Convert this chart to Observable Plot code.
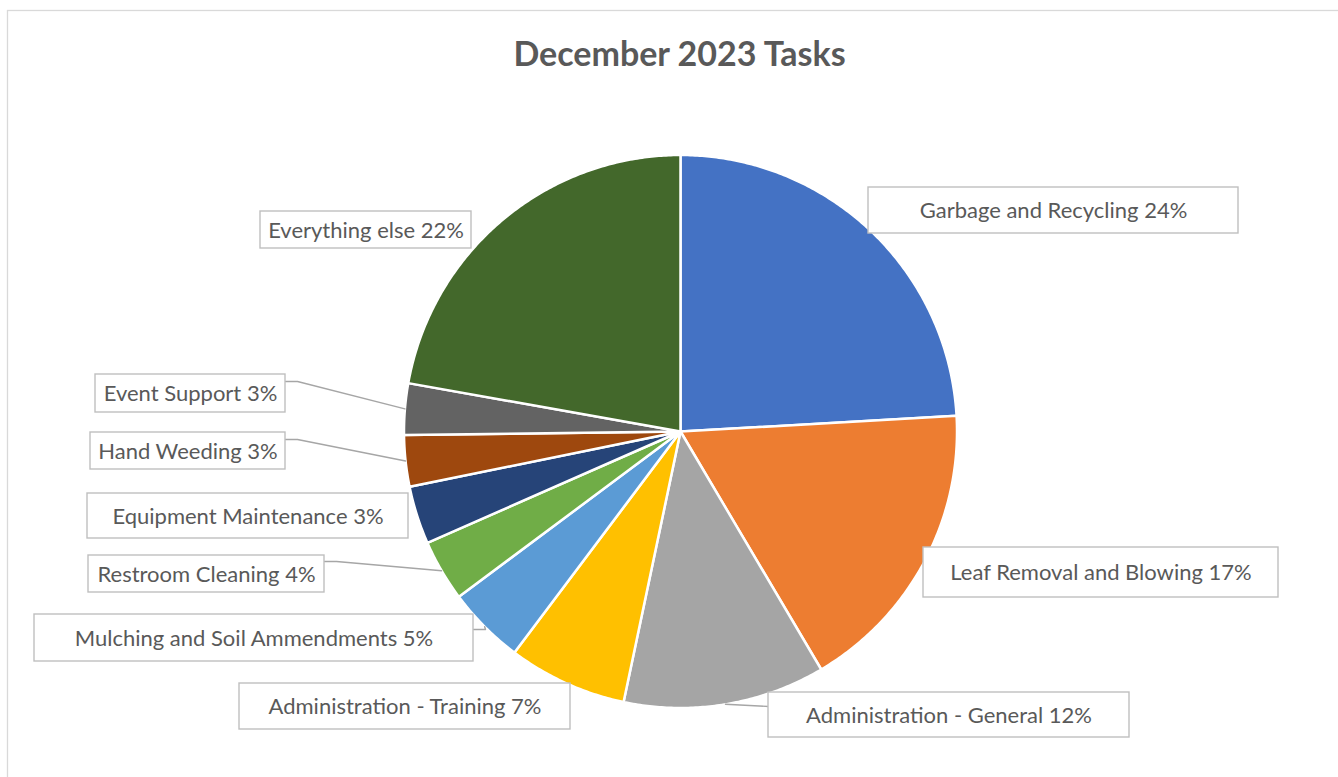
<!DOCTYPE html>
<html><head><meta charset="utf-8">
<script src="https://cdn.jsdelivr.net/npm/d3@7"></script>
<script src="https://cdn.jsdelivr.net/npm/@observablehq/plot@0.6"></script>
<style>html,body{margin:0;padding:0;background:#fff;overflow:hidden}</style>
</head><body><div id="chart"></div>
<script>
// ---- data ----
const title = "December 2023 Tasks";
const tasks = [
  "Garbage and Recycling", "Leaf Removal and Blowing", "Administration - General",
  "Administration - Training", "Mulching and Soil Ammendments", "Restroom Cleaning",
  "Equipment Maintenance", "Hand Weeding", "Event Support", "Everything else"
];
const shares = [24.1, 17.4, 11.8, 6.95, 4.55, 3.6, 3.4, 3.0, 3.0, 22.2];
const colors = ["#4472C4", "#ED7D31", "#A5A5A5", "#FFC000", "#5B9BD5",
                "#70AD47", "#264478", "#9E480E", "#636363", "#43682B"];

// ---- layout (pixels) ----
const W = 1338, H = 777;
const pie = {cx: 680, cy: 431, r: 276.5};
const labelBoxes = [
  [868, 187, 1238, 233], [923, 547, 1278, 597], [768, 692, 1129, 737],
  [239, 683, 570, 729], [34, 614, 473, 661], [88, 555, 324, 592],
  [87, 493, 408, 538], [90, 432, 285, 469], [95, 374, 285, 412],
  [260, 211, 471, 248]
];
const leaderAttach = [
  null, {side: "left", y: 565, elbow: 0}, {side: "left", y: 706, elbow: 0},
  null, {side: "right", y: 629, elbow: 12}, {side: "right", y: 561, elbow: 12},
  null, {side: "right", y: 439, elbow: 12}, {side: "right", y: 381, elbow: 12},
  null
];

const total = d3.sum(shares);
const pt = (a, r) => ({x: pie.cx + r * Math.sin(a), y: pie.cy - r * Math.cos(a)});

// slices as closed polygons
const slicePts = [];
const mids = [];
let acc = 0;
tasks.forEach((t, i) => {
  const a0 = acc / total * 2 * Math.PI;
  acc += shares[i];
  const a1 = acc / total * 2 * Math.PI;
  mids.push((a0 + a1) / 2);
  const n = Math.max(4, Math.ceil((a1 - a0) / (Math.PI / 360)));
  slicePts.push({task: t, color: colors[i], ...pt(0, 0)});
  for (let k = 0; k <= n; k++) slicePts.push({task: t, color: colors[i], ...pt(a0 + (a1 - a0) * k / n, pie.r)});
  slicePts.push({task: t, color: colors[i], ...pt(0, 0)});
});

const labels = tasks.map((t, i) => ({
  task: t,
  text: `${t} ${Math.round(shares[i] / total * 100)}%`,
  x1: labelBoxes[i][0], y1: labelBoxes[i][1], x2: labelBoxes[i][2], y2: labelBoxes[i][3]
}));

const leaderPts = [];
tasks.forEach((t, i) => {
  const L = leaderAttach[i];
  if (!L) return;
  const b = labelBoxes[i];
  const ex = L.side === "right" ? b[2] : b[0];
  const dir = L.side === "right" ? 1 : -1;
  leaderPts.push({task: t, ...pt(mids[i], pie.r)});
  if (L.elbow) leaderPts.push({task: t, x: ex + dir * L.elbow, y: L.y});
  leaderPts.push({task: t, x: ex, y: L.y});
});

const font = "Lato, 'Open Sans', sans-serif";
const chart = Plot.plot({
  width: W, height: H,
  margin: 0,
  x: {domain: [0, W], range: [0, W], axis: null},
  y: {domain: [0, H], range: [0, H], axis: null},
  color: {type: "identity"},
  style: {fontFamily: font, background: "white"},
  marks: [
    Plot.rect([0], {x1: () => 7.5, y1: () => 10.5, x2: () => W + 20, y2: () => H + 20,
      fill: "none", stroke: "#d9d9d9", strokeWidth: 1.3}),
    Plot.line(slicePts, {x: "x", y: "y", z: "task", fill: "color", stroke: "white",
      strokeWidth: 2.5, strokeLinejoin: "round"}),
    Plot.line(leaderPts, {x: "x", y: "y", z: "task", stroke: "#a6a6a6", strokeWidth: 1.4}),
    Plot.rect(labels, {x1: "x1", y1: "y1", x2: "x2", y2: "y2", fill: "white",
      stroke: "#bfbfbf", strokeWidth: 1.4}),
    Plot.text(labels, {x: d => (d.x1 + d.x2) / 2, y: d => (d.y1 + d.y2) / 2 + 0.5, text: "text",
      fontSize: 22, fill: "#595959", fontFamily: font, lineAnchor: "middle"}),
    Plot.text([title], {x: () => 679, y: () => 55, text: d => d, fontSize: 34,
      fontWeight: "bold", fill: "#595959", fontFamily: font, lineAnchor: "middle"})
  ]
});
document.getElementById("chart").appendChild(chart);
</script>
</body></html>
